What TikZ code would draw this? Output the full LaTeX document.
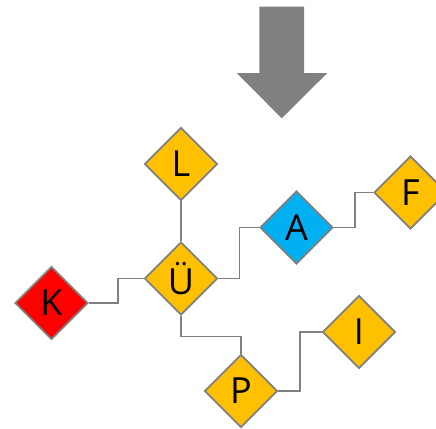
\documentclass[tikz,border=0pt]{standalone}
\usepackage{fontspec}
\setmainfont{Open Sans}
\usetikzlibrary{shapes.geometric}
\definecolor{ygold}{HTML}{FFC000}
\definecolor{ablue}{HTML}{00B0F0}
\definecolor{kred}{HTML}{FF0000}
\definecolor{lgray}{HTML}{808080}
\tikzset{
  dnode/.style={diamond, aspect=1, draw=lgray, line width=1.8pt, minimum width=73pt, minimum height=73pt, inner sep=0pt, font=\fontsize{36}{40}\selectfont, text=black},
  conn/.style={draw=lgray, line width=1.8pt},
}
\begin{document}
\begin{tikzpicture}[x=1pt,y=-1pt]
\useasboundingbox (0,0) rectangle (436,428);
% arrow
\fill[lgray] (259.3,6.7) -- (304,6.7) -- (304,73) -- (327.3,73) -- (281.7,118.3) -- (236.7,73) -- (259.3,73) -- cycle;
% nodes
\node[dnode, fill=ygold] (L) at (181,164) {L};
\node[dnode, fill=ygold] (U) at (181,278.5) {Ü};
\node[dnode, fill=kred] (K) at (51.5,303) {K};
\node[dnode, fill=ablue] (A) at (296.5,227.5) {A};
\node[dnode, fill=ygold] (F) at (410.5,192.5) {F};
\node[dnode, fill=ygold] (P) at (241,391) {P};
\node[dnode, fill=ygold] (I) at (359,332) {I};
% connectors
\draw[conn] (L.south) -- (U.north);
\draw[conn] (K.east) -- ++(28.7,0) |- (U.west);
\draw[conn] (U.east) -- ++(21,0) |- (A.west);
\draw[conn] (A.east) -- ++(20.7,0) |- (F.west);
\draw[conn] (U.south) -- ++(0,20.5) -| (P.north);
\draw[conn] (P.east) -- ++(21.5,0) |- (I.west);
\end{tikzpicture}
\end{document}
